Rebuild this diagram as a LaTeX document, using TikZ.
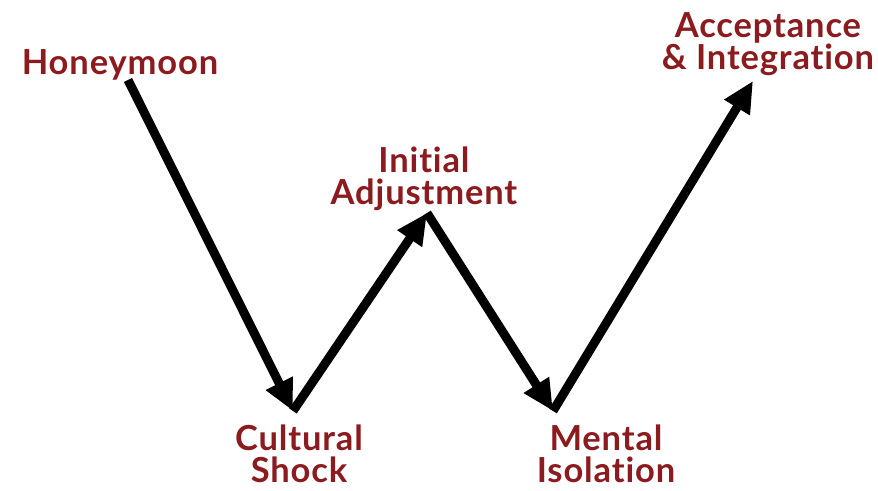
\documentclass[tikz,border=0pt]{standalone}
\usepackage{fontspec}
\setmainfont{Lato}[Ligatures=NoCommon, LetterSpace=2.5]
\usetikzlibrary{arrows.meta}
\definecolor{stagered}{RGB}{139,27,30}
\newcommand{\stage}[3]{\node[stage] (#1) at (#2) {#3};}
\newcommand{\curve}[2]{\draw[phase] (#1)--(#2);}

\begin{document}
\begin{tikzpicture}[x=1pt, y=1pt,
  stage/.style={align=center, inner sep=0pt, text=stagered,
    font=\fontsize{34.5}{32}\selectfont\bfseries},
  phase/.style={line width=9pt, -{Triangle[length=31pt, width=28pt]}}]

  \useasboundingbox (0,0) rectangle (878,490);

  % Stages
  % ======
  \stage{honeymoon}{120,425}{Honeymoon}
  \stage{shock}{299,36}{Cultural\\Shock}
  \stage{adjust}{424,311}{Initial\\Adjustment}
  \stage{isolation}{606,36}{Mental\\Isolation}
  \stage{accept}{768,446}{Acceptance\\\& Integration}

  % Turning points
  % ==============
  \coordinate (p0) at (128,410);
  \coordinate (p1) at (293,79);
  \coordinate (p2) at (427,277);
  \coordinate (p3) at (553,79);
  \coordinate (p4) at (753,409);

  % The W
  % *****
  \curve{p0}{p1}
  \curve{p1}{p2}
  \curve{p2}{p3}
  \curve{p3}{p4}

\end{tikzpicture}
\end{document}
